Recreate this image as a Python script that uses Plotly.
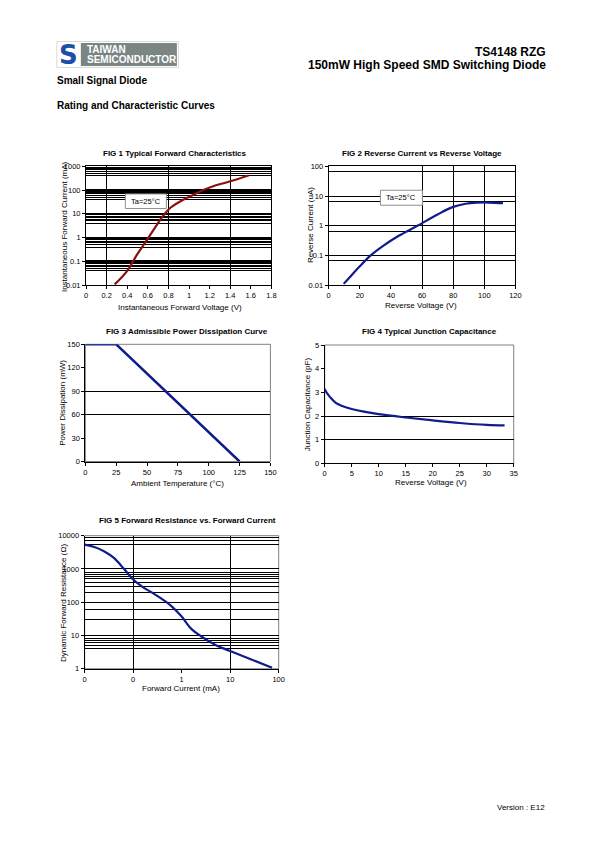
import plotly.graph_objects as go

W, H = 595, 842          # page size
OFF = 8                  # default body margin of the html page
FW, FH = W - 2 * OFF, H - 2 * OFF   # keep the document inside the window
FONT = "Liberation Sans, Arial, sans-serif"

# ---------------- data ----------------
fig1_v = [0.278, 0.398, 0.495, 0.592, 0.689, 0.754, 0.819, 0.948, 1.078, 1.207, 1.401, 1.579]
fig1_i = [0.0107, 0.039, 0.19, 0.80, 3.5, 8.8, 18, 40, 76, 132, 234, 410]

fig2_v = [9.6, 15, 20, 27, 35, 45, 57, 70, 80, 88, 95, 103, 112]
fig2_i = [0.011, 0.0225, 0.043, 0.1, 0.209, 0.457, 0.99, 2.4, 4.3, 5.5, 5.96, 6.03, 5.75]

fig3_t = [0, 25, 125]
fig3_p = [150, 150, 0]

fig4_v = [0, 0.2, 0.5, 1, 2, 3, 5, 7.5, 10, 15, 20, 25, 30, 33.3]
fig4_c = [3.15, 3.05, 2.95, 2.8, 2.57, 2.45, 2.3, 2.18, 2.08, 1.94, 1.82, 1.71, 1.63, 1.61]

fig5_i = [0.01, 0.0158, 0.025, 0.04, 0.063, 0.1, 0.158, 0.25, 0.4, 0.63, 1.0, 1.58, 2.5, 5, 10, 25, 73]
fig5_r = [5370, 4570, 3390, 2140, 1050, 480, 285, 190, 122, 74, 37, 15.8, 9.5, 5.2, 3.4, 2.0, 1.07]

# tick labels
fig1_xticks = [0, 0.2, 0.4, 0.6, 0.8, 1.0, 1.2, 1.4, 1.6, 1.8]
fig1_xtext = ["0", "0.2", "0.4", "0.6", "0.8", "1", "1.2", "1.4", "1.6", "1.8"]
fig1_yticks = [0.01, 0.1, 1, 10, 100, 1000]
fig1_ytext = ["0.01", "0.1", "1", "10", "100", "1000"]
fig2_yticks = [0.01, 0.1, 1, 10, 100]
fig2_ytext = ["0.01", "0.1", "1", "10", "100"]
fig5_xticks = [0.01, 0.1, 1, 10, 100]
fig5_xtext = ["0", "0", "1", "10", "100"]
fig5_yticks = [1, 10, 100, 1000, 10000]
fig5_ytext = ["1", "10", "100", "1000", "10000"]

# grid positions (as drawn in the sheet)
fig1_xgrid = [0.2, 0.8, 1.4]
fig1_ygrid = [m * 10 ** e for e in (-2, -1, 0, 1, 2) for m in (4, 5, 6, 7, 8, 9)]
fig2_xgrid = [60, 80, 100]
fig2_ygrid = [0.066, 0.66, 6.6, 66]
fig3_ygrid = [60, 90]
fig4_ygrid = [1, 2]
fig5_xgrid = [0.1, 10]
fig5_ygrid = [9000, 7000, 5500, 800, 700, 600, 500, 400, 300, 200, 60, 30, 8, 7, 6, 5, 4]

# ---------------- layout helpers ----------------
SX, BX = 0.986, 1.77     # empirical correction of the page placement
SY, BY = 0.9908, 2.5

def fx(x):
    xp = (x - BX) / SX
    return (xp - OFF) / FW

def fy(y):
    yp = (y - BY) / SY
    return 1 - (yp - OFF) / FH

def dom(x0, x1, y0, y1):
    return [fx(x0), fx(x1)], [fy(y1), fy(y0)]

boxes = {
    1: (85.7, 271, 165, 284),
    2: (328.3, 515, 165, 284),
    3: (85, 270, 343.3, 460.7),
    4: (324.3, 513.3, 344, 462.7),
    5: (84.3, 278.3, 535, 668.3),
}

fig = go.Figure()

def add_line(n, x, y, color, smoothing=1.0):
    fig.add_trace(go.Scatter(
        x=x, y=y, mode="lines", line=dict(color=color, width=2.2, shape="spline", smoothing=smoothing),
        xaxis="x" if n == 1 else f"x{n}", yaxis="y" if n == 1 else f"y{n}",
        showlegend=False, hoverinfo="skip"))

add_line(1, fig1_v, fig1_i, "#8b1010")
add_line(2, fig2_v, fig2_i, "#101c8c")
fig.add_trace(go.Scatter(x=fig3_t, y=fig3_p, mode="lines", line=dict(color="#101c8c", width=2.5),
                         xaxis="x3", yaxis="y3", showlegend=False, hoverinfo="skip"))
add_line(4, fig4_v, fig4_c, "#101c8c")
add_line(5, fig5_i, fig5_r, "#101c8c")

tickfont = dict(family=FONT, size=7.5, color="black")

def axis(n, kind, rng, **kw):
    xd, yd = dom(*boxes[n])
    base = dict(range=rng, showline=True, linecolor="black", linewidth=1, mirror=False,
                ticks="outside", ticklen=3, tickcolor="black", tickwidth=1,
                tickfont=tickfont, showgrid=False, zeroline=False, fixedrange=True)
    base.update(kw)
    if kind == "x":
        base["domain"] = xd
        base["anchor"] = "y" if n == 1 else f"y{n}"
    else:
        base["domain"] = yd
        base["anchor"] = "x" if n == 1 else f"x{n}"
    return base

def minor(vals, width=1.0):
    return dict(tickmode="array", tickvals=vals, showgrid=True, gridcolor="black",
                gridwidth=width, ticks="")

layout = dict(
    width=FW, height=FH, margin=dict(l=0, r=0, t=0, b=0),
    paper_bgcolor="white", plot_bgcolor="white",
    font=dict(family=FONT, color="black"),
)

layout["xaxis"] = axis(1, "x", [0, 1.8], tickmode="array", tickvals=fig1_xticks,
                       ticktext=fig1_xtext, minor=minor(fig1_xgrid, 1.3), mirror=True)
layout["yaxis"] = axis(1, "y", [-2, 3], type="log", tickmode="array", tickvals=fig1_yticks,
                       ticktext=fig1_ytext, showgrid=True, gridcolor="black", gridwidth=1.6,
                       minor=minor(fig1_ygrid, 1.1), mirror=True)
layout["xaxis2"] = axis(2, "x", [0, 120], dtick=20, minor=minor(fig2_xgrid, 1.3), mirror=True)
layout["yaxis2"] = axis(2, "y", [-2, 2], type="log", tickmode="array", tickvals=fig2_yticks,
                        ticktext=fig2_ytext, showgrid=True, gridcolor="black", gridwidth=1.2,
                        minor=minor(fig2_ygrid, 1.2), mirror=True)
layout["xaxis3"] = axis(3, "x", [0, 150], dtick=25)
layout["yaxis3"] = axis(3, "y", [0, 150], dtick=30, minor=minor(fig3_ygrid, 1.1))
layout["xaxis4"] = axis(4, "x", [0, 35], dtick=5)
layout["yaxis4"] = axis(4, "y", [0, 5], dtick=1, minor=minor(fig4_ygrid, 1.1))
layout["xaxis5"] = axis(5, "x", [-2, 2], type="log", tickmode="array", tickvals=fig5_xticks,
                        ticktext=fig5_xtext, minor=minor(fig5_xgrid, 1.2))
layout["yaxis5"] = axis(5, "y", [0, 4], type="log", tickmode="array", tickvals=fig5_yticks,
                        ticktext=fig5_ytext, showgrid=True, gridcolor="black", gridwidth=1.1,
                        minor=minor(fig5_ygrid, 1.0))

shapes = []
# gray frames for figs 3-5
for n in (3, 4, 5):
    shapes.append(dict(type="rect", xref=f"x{n} domain", yref=f"y{n} domain", x0=0, x1=1, y0=0, y1=1,
                       line=dict(color="#808080", width=1), layer="below"))

def rect(a, b, c, d, **kw):
    shapes.append(dict(type="rect", xref="paper", yref="paper",
                       x0=fx(a), x1=fx(b), y0=fy(d), y1=fy(c), **kw))

# logo
rect(56.5, 178, 40, 66, line=dict(color="#d0d0d0", width=0.8), fillcolor="white")
rect(80.5, 176.5, 41.5, 64.5, line=dict(width=0), fillcolor="#7b8684")
# label boxes
rect(125, 166, 192.7, 207.3, line=dict(color="#909090", width=1), fillcolor="white")
rect(380, 422, 189, 204, line=dict(color="#909090", width=1), fillcolor="white")

annotations = []

def T(text, x, y, size, bold=False, anchor="center", angle=0, color="black", family=FONT):
    annotations.append(dict(
        text=f"<b>{text}</b>" if bold else text, x=fx(x), y=fy(y), xref="paper", yref="paper",
        xanchor=anchor, yanchor="middle", showarrow=False, textangle=angle,
        font=dict(family=family, size=size, color=color)))

# header
T("S", 68, 53, 26, bold=True, color="#1c4fa6", family="DejaVu Sans, " + FONT)
T("TAIWAN", 85, 47.5, 10, bold=True, anchor="left", color="white")
T("SEMICONDUCTOR", 85, 58.5, 10, bold=True, anchor="left", color="white")
T("TS4148 RZG", 548, 50, 12, bold=True, anchor="right")
T("150mW High Speed SMD Switching Diode", 548, 64, 12, bold=True, anchor="right")
T("Small Signal Diode", 55, 79, 10, bold=True, anchor="left")
T("Rating and Characteristic Curves", 55, 104, 10, bold=True, anchor="left")
T("Version : E12", 547, 807, 8, anchor="right")

# figure titles
T("FIG 1 Typical Forward Characteristics", 175, 152, 8, bold=True)
T("FIG 2 Reverse Current vs Reverse Voltage", 422, 152, 8, bold=True)
T("FIG 3 Admissible Power Dissipation Curve", 187, 330, 8, bold=True)
T("FIG 4 Typical Junction Capacitance", 429, 330.5, 8, bold=True)
T("FIG 5 Forward Resistance vs. Forward Current", 187, 520, 8, bold=True)

# axis titles
T("Instantaneous Forward Voltage (V)", 180, 306, 8)
T("Instantaneous Forward Current (mA)", 63.5, 225, 8, angle=-90)
T("Reverse Voltage (V)", 421, 304, 8)
T("Reverse Current (uA)", 309.5, 224, 8, angle=-90)
T("Ambient Temperature (°C)", 177, 483, 8)
T("Power Dissipation (mW)", 62.5, 402, 8, angle=-90)
T("Reverse Voltage (V)", 431, 482, 8)
T("Junction Capacitance (pF)", 308, 403, 8, angle=-90)
T("Forward Current (mA)", 181, 688, 8)
T("Dynamic Forward Resistance (Ω)", 63, 602, 8, angle=-90)

# condition labels
T("Ta=25°C", 145.5, 200, 7.5)
T("Ta=25°C", 401, 196.5, 7.5)

layout["shapes"] = shapes
layout["annotations"] = annotations
fig.update_layout(**layout)
fig.write_html("out.html")
